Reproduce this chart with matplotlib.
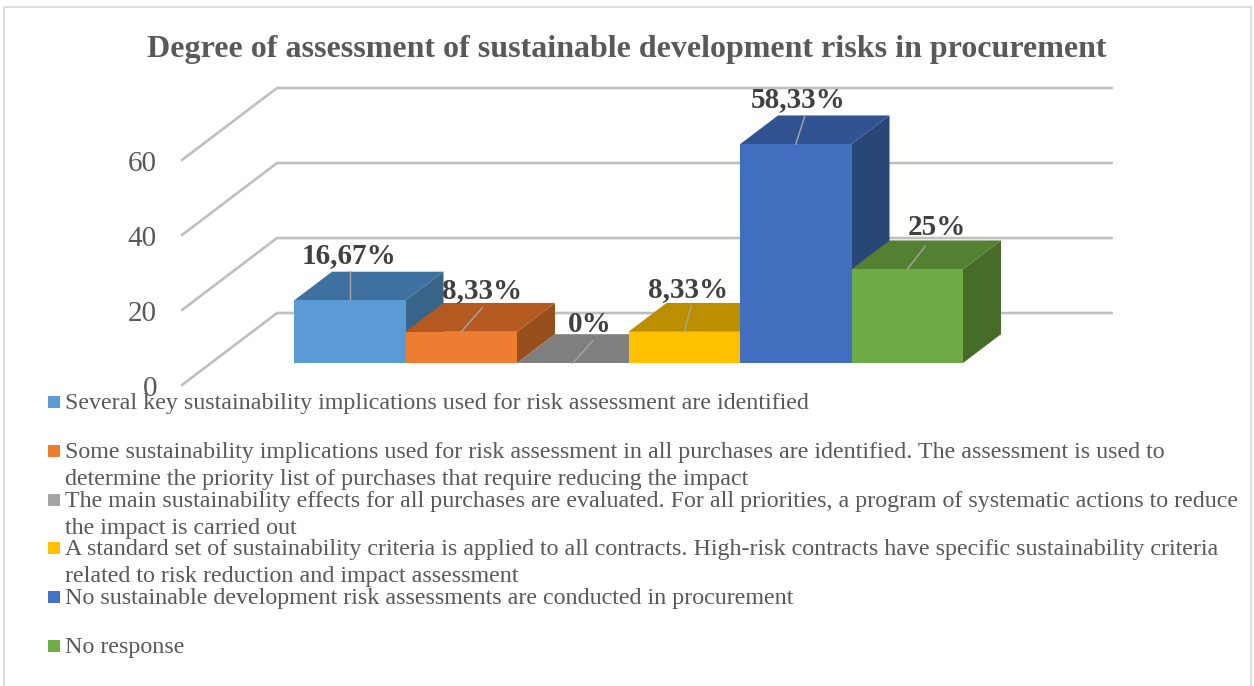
import matplotlib
matplotlib.use("Agg")
import matplotlib.pyplot as plt
from matplotlib.patches import Polygon, Rectangle

plt.rcParams['font.family'] = ['Liberation Serif', 'DejaVu Serif']

# --- DATA ---
title = "Degree of assessment of sustainable development risks in procurement"
values = [16.67, 8.33, 0, 8.33, 58.33, 25]
value_labels = ["16,67%", "8,33%", "0%", "8,33%", "58,33%", "25%"]
y_ticks = [0, 20, 40, 60]
legend_labels = [
    "Several key sustainability implications used for risk assessment are identified",
    "Some sustainability implications used for risk assessment in all purchases are identified. The assessment is used to\ndetermine the priority list of purchases that require reducing the impact",
    "The main sustainability effects for all purchases are evaluated. For all priorities, a program of systematic actions to reduce\nthe impact is carried out",
    "A standard set of sustainability criteria is applied to all contracts. High-risk contracts have specific sustainability criteria\nrelated to risk reduction and impact assessment",
    "No sustainable development risk assessments are conducted in procurement",
    "No response",
]

# --- STYLE ---
front_colors = ['#5B9BD5', '#ED7D31', '#7F7F7F', '#FFC000', '#416EBF', '#6EAA46']
top_colors = ['#3F71A0', '#B45A21', '#7F7F7F', '#BC8F00', '#315392', '#548032']
side_colors = ['#38648A', '#97501B', '#666666', '#9A7500', '#284678', '#476C28']
legend_colors = ['#5B9BD5', '#ED7D31', '#A5A5A5', '#FFC000', '#4472C4', '#70AD47']
grid_color = '#BFBFBF'
text_color = '#595959'
label_color = '#404040'

W, H = 1254, 686
PX_CAT = 111.5    # pixels per bar width
PX_VAL = 3.75     # pixels per value unit
BASE_X, BASE_Y = 294, 363
DEPTH_X = 95 / PX_CAT
DEPTH_Y = 72 / PX_VAL
BAR_DEPTH = 0.4
WALL_FRONT, WALL_BACK = -0.306, 0.694
FLOOR_L, FLOOR_R = -0.744, 6.744

# leader top offset and label offset from the bar's front edge centre, in pixels
leader_offsets = [(0, -29), (21, -24), (20, -22), (7, -26), (9, -28), (18, -23)]
label_offsets = [(-1, -45), (21, -41), (17, -39), (4, -42), (2, -45), (30, -42)]


def project(x, v, d):
    return x + d * DEPTH_X, v + d * DEPTH_Y


fig = plt.figure(figsize=(W / 100, H / 100), dpi=100)

# chart in data units, sheared by hand to get the 3D look
ax = fig.add_axes([0, 0, 1, 1])
ax.set_xlim(-BASE_X / PX_CAT, (W - BASE_X) / PX_CAT)
ax.set_ylim(-(H - BASE_Y) / PX_VAL, BASE_Y / PX_VAL)
ax.axis('off')

# overlay in pixels for title, legend, border
lay = fig.add_axes([0, 0, 1, 1], zorder=3)
lay.set_xlim(0, W)
lay.set_ylim(H, 0)
lay.axis('off')
lay.patch.set_alpha(0)

lay.add_patch(Rectangle((4, 6.5), 1246.5, 700, fill=False, ec='#D9D9D9', lw=1.3))
lay.text(626.5, 50, title, ha='center', va='center', fontsize=23, fontweight='bold', color=text_color)

# walls
for t in y_ticks:
    x0, y0 = project(FLOOR_L, t, WALL_FRONT)
    x1, y1 = project(FLOOR_L, t, WALL_BACK)
    x2, y2 = project(FLOOR_R, t, WALL_BACK)
    ax.plot([x0, x1, x2], [y0, y1, y2], color=grid_color, lw=1.9, solid_capstyle='round',
            solid_joinstyle='miter', zorder=1)
    ax.annotate(str(t), xy=(x0, y0), xytext=(-25 * 0.72, -3), textcoords='offset points',
                ha='right', va='center', fontsize=21, color=text_color, zorder=6)

# bars, left to right so each one hides the previous side face
for i, v in enumerate(values):
    l, r = i, i + 1
    top = [project(l, v, 0), project(r, v, 0), project(r, v, BAR_DEPTH), project(l, v, BAR_DEPTH)]
    side = [project(r, 0, 0), project(r, v, 0), project(r, v, BAR_DEPTH), project(r, 0, BAR_DEPTH)]
    z = 2 + i * 0.1
    if v > 0:
        ax.add_patch(Polygon(side, fc=side_colors[i], ec='none', zorder=z))
    ax.add_patch(Polygon(top, fc=top_colors[i], ec='none', zorder=z + 0.01))
    if v > 0:
        ax.add_patch(Rectangle((l, 0), 1, v, fc=front_colors[i], ec='none', zorder=z + 0.02))

    cx = i + 0.5
    lx, ly = leader_offsets[i]
    ax.plot([cx, cx + lx / PX_CAT], [v, v - ly / PX_VAL], color='#A6A6A6', lw=1.0, zorder=z + 0.03)

for i, v in enumerate(values):
    ox, oy = label_offsets[i]
    ax.annotate(value_labels[i], xy=(i + 0.5, v), xytext=(ox * 0.72, -oy * 0.72),
                textcoords='offset points', ha='center', va='center', fontsize=21,
                fontweight='bold', color=label_color, zorder=7)

# legend rows are evenly spaced, long entries run into the next one
for i, lab in enumerate(legend_labels):
    yc = 402 + i * 48.8
    lay.add_patch(Rectangle((48, yc - 6), 12, 12, fc=legend_colors[i], ec='none'))
    lay.text(65, yc - 9, lab, ha='left', va='top', fontsize=17.3, color=text_color, linespacing=1.38)

fig.savefig('out.png', dpi=100)
